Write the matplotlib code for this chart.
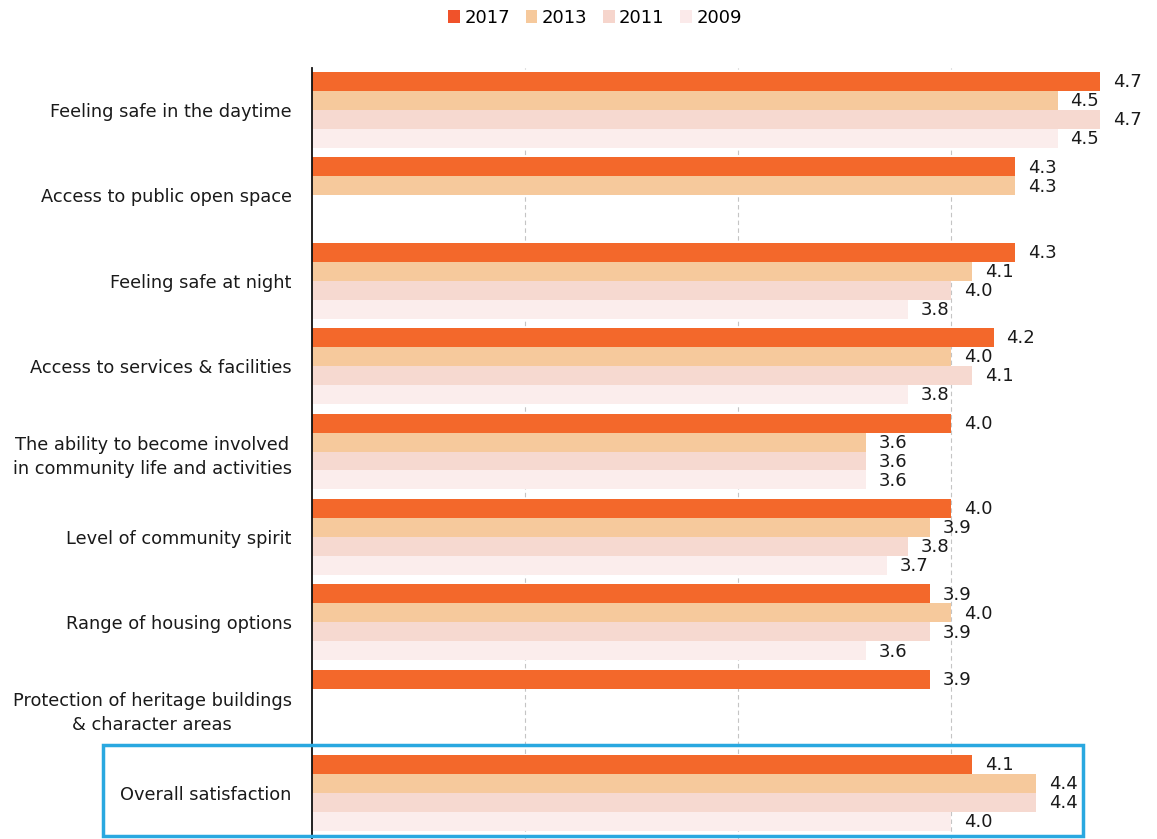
import numpy as np
import matplotlib
matplotlib.use("Agg")
import matplotlib.pyplot as plt
from matplotlib.patches import Rectangle, Patch

categories = [
    "Feeling safe in the daytime",
    "Access to public open space",
    "Feeling safe at night",
    "Access to services & facilities",
    "The ability to become involved\nin community life and activities",
    "Level of community spirit",
    "Range of housing options",
    "Protection of heritage buildings\n& character areas",
    "Overall satisfaction",
]
years = ["2017", "2013", "2011", "2009"]
nan = np.nan
v2017 = [4.7, 4.3, 4.3, 4.2, 4.0, 4.0, 3.9, 3.9, 4.1]
v2013 = [4.5, 4.3, 4.1, 4.0, 3.6, 3.9, 4.0, nan, 4.4]
v2011 = [4.7, nan, 4.0, 4.1, 3.6, 3.8, 3.9, nan, 4.4]
v2009 = [4.5, nan, 3.8, 3.8, 3.6, 3.7, 3.6, nan, 4.0]
series = [v2017, v2013, v2011, v2009]
colors = ["#F3682B", "#F6C99C", "#F6D9D0", "#FBEDEC"]
legend_colors = ["#F0522A", "#F6C99C", "#F6D5CC", "#FBEAEA"]

W, H = 1157, 839
fig = plt.figure(figsize=(W / 100, H / 100), dpi=100)
fig.patch.set_facecolor("white")

x0 = 1.0
px_per_unit = 213.0
ax_left = 312
ax_top = 68
ax = fig.add_axes([ax_left / W, 0, (W - ax_left) / W, (H - ax_top) / H])
xmax = x0 + (W - ax_left) / px_per_unit

group_px = 85.4
bar_h = 19.0 / group_px
y = np.arange(len(categories))

for k, (vals, col) in enumerate(zip(series, colors)):
    vals = np.array(vals, dtype=float)
    pos = y + (k - 1.5) * bar_h
    widths = vals - x0
    ax.barh(pos, widths, left=x0, height=bar_h, color=col, edgecolor="none", zorder=2)
    for p, v in zip(pos, vals):
        if np.isnan(v):
            continue
        ax.text(v + 0.06, p + 0.01, f"{v:.1f}", ha="left", va="center",
                fontsize=13, color="#1A1A1A", zorder=3)

ax.set_xlim(x0, xmax)
ax.set_ylim(len(categories) - 1 + (H - 793) / group_px, -(110 - ax_top) / group_px)

for g in [2, 3, 4, 5]:
    ax.axvline(g, color="#C4C4C4", lw=0.8, ls=(0, (4, 3)), zorder=1)

for s in ["top", "right", "bottom"]:
    ax.spines[s].set_visible(False)
ax.spines["left"].set_color("#111111")
ax.spines["left"].set_linewidth(1.3)
ax.set_xticks([])
ax.set_yticks(y)
ax.set_yticklabels(categories, fontsize=12.8, color="#1A1A1A",
                   multialignment="center", linespacing=1.45)
ax.tick_params(axis="y", length=0, pad=14.5)

# highlight box around the overall score
fig.patches.append(Rectangle((103 / W, (H - 836) / H), (1083 - 103) / W, (836 - 745) / H,
                             transform=fig.transFigure, fill=False,
                             edgecolor="#29A8E0", linewidth=2.5, zorder=5))

handles = [Patch(facecolor=c, edgecolor="none") for c in legend_colors]
fig.legend(handles, years, loc="center", bbox_to_anchor=(595 / W, 1 - 18 / H), ncol=4,
           frameon=False, fontsize=13, handlelength=0.65, handleheight=0.7,
           handletextpad=0.25, columnspacing=0.85)

fig.savefig("out.png", dpi=100, facecolor="white")
